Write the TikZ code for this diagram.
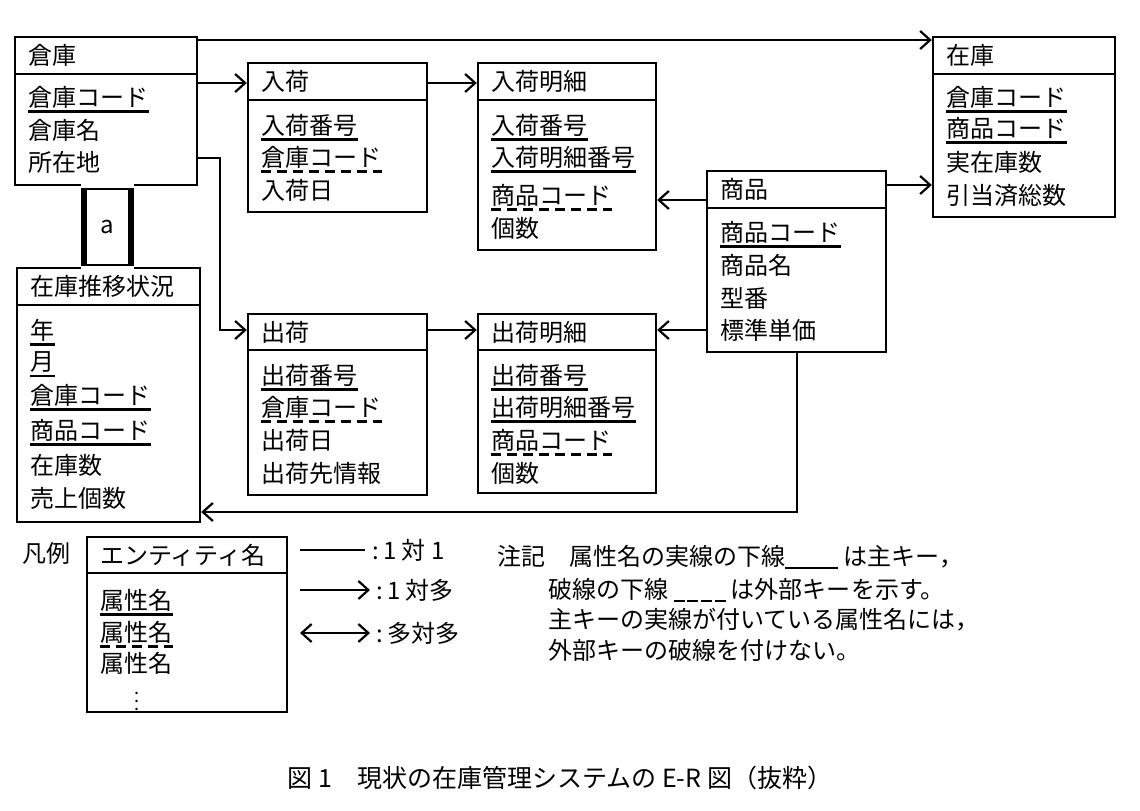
\documentclass[tikz,border=0pt]{standalone}
\usepackage{fontspec}
\setmainfont{Noto Sans CJK JP}
\usetikzlibrary{fit,arrows.meta}
\tikzset{
  box/.style={draw,line width=1.2pt,inner sep=0pt},
  attr/.style={anchor=west,inner xsep=0pt,inner ysep=1.5pt,font=\fontsize{12}{14}\selectfont},
  pk/.style={attr,append after command={(\tikzlastnode.south west) edge[draw,line width=1.2pt] (\tikzlastnode.south east)}},
  fk/.style={attr,append after command={(\tikzlastnode.south west) edge[draw,line width=1.2pt,dash pattern=on 5pt off 3pt] (\tikzlastnode.south east)}},
  rel/.style={line width=1.1pt},
  >={Straight Barb[length=5pt,width=9pt,line width=1.1pt]}
}
\newcommand\entity[7]{%
  \node[box, fit={(#2,#3)(#4,#5)}] (#1) {};
  \draw[line width=1.2pt] (#1.west |- 0,#6) -- (#1.east |- 0,#6);
  \node[attr] (#1-t) at (#2+13,{(#3+#6)/2}) {#7};}
\newcommand\solidbar{\rule[-2pt]{2.2em}{1pt}}
\newcommand\dashbar{\rule[-2pt]{0.45em}{1pt}\hspace{0.12em}\rule[-2pt]{0.45em}{1pt}\hspace{0.12em}\rule[-2pt]{0.45em}{1pt}\hspace{0.12em}\rule[-2pt]{0.45em}{1pt}}
\begin{document}
\begin{tikzpicture}[x=0.5pt,y=-0.5pt]
\useasboundingbox (0,0) rectangle (1140,810);

% entities
\entity{soko}{15}{37}{197}{185}{74}{倉庫}
\node[pk] (soko-1) at (28,97) {倉庫コード};
\node[attr] (soko-2) at (28,130) {倉庫名};
\node[attr] (soko-3) at (28,162) {所在地};

\entity{nyuka}{248}{63}{427}{212}{100}{入荷}
\node[pk] (nyuka-1) at (261,125) {入荷番号};
\node[fk] (nyuka-2) at (261,157) {倉庫コード};
\node[attr] (nyuka-3) at (261,190) {入荷日};

\entity{nmei}{478}{63}{656}{250}{100}{入荷明細}
\node[pk] (nmei-1) at (491,125) {入荷番号};
\node[pk] (nmei-2) at (491,157) {入荷明細番号};
\node[fk] (nmei-3) at (491,195) {商品コード};
\node[attr] (nmei-4) at (491,228) {個数};

\entity{zaiko}{933}{37}{1115}{217}{74}{在庫}
\node[pk] (zaiko-1) at (946,97) {倉庫コード};
\node[pk] (zaiko-2) at (946,128) {商品コード};
\node[attr] (zaiko-3) at (946,162) {実在庫数};
\node[attr] (zaiko-4) at (946,195) {引当済総数};

\entity{shohin}{707}{171}{886}{352}{208}{商品}
\node[pk] (shohin-1) at (720,232) {商品コード};
\node[attr] (shohin-2) at (720,265) {商品名};
\node[attr] (shohin-3) at (720,298) {型番};
\node[attr] (shohin-4) at (720,330) {標準単価};

\entity{suii}{17}{268}{200}{522}{305}{在庫推移状況}
\node[pk] (suii-1) at (30,330) {年};
\node[pk] (suii-2) at (30,362) {月};
\node[pk] (suii-3) at (30,395) {倉庫コード};
\node[pk] (suii-4) at (30,430) {商品コード};
\node[attr] (suii-5) at (30,465) {在庫数};
\node[attr] (suii-6) at (30,498) {売上個数};

\entity{shuka}{248}{314}{427}{495}{350}{出荷}
\node[pk] (shuka-1) at (261,375) {出荷番号};
\node[fk] (shuka-2) at (261,407) {倉庫コード};
\node[attr] (shuka-3) at (261,440) {出荷日};
\node[attr] (shuka-4) at (261,473) {出荷先情報};

\entity{smei}{478}{314}{656}{493}{350}{出荷明細}
\node[pk] (smei-1) at (491,375) {出荷番号};
\node[pk] (smei-2) at (491,407) {出荷明細番号};
\node[fk] (smei-3) at (491,440) {商品コード};
\node[attr] (smei-4) at (491,473) {個数};

% relationships
\draw[rel,->] (soko.east |- 0,40) -- (zaiko.west |- 0,40);
\draw[rel,->] (soko.east |- 0,83) -- (nyuka.west |- 0,83);
\draw[rel,->] (nyuka.east |- 0,83) -- (nmei.west |- 0,83);
\draw[rel,->] (soko.east |- 0,158) -| (220,330) -- (shuka.west |- 0,330);
\draw[rel,->] (shuka.east |- 0,330) -- (smei.west |- 0,330);
\draw[rel,->] (shohin.west |- 0,200) -- (nmei.east |- 0,200);
\draw[rel,->] (shohin.west |- 0,330) -- (smei.east |- 0,330);
\draw[rel,->] (shohin.east |- 0,185) -- (zaiko.west |- 0,185);
\draw[rel,->] (shohin.south -| 797,0) -- (797,512) -- (suii.east |- 0,512);

% blank relationship a
\node[draw,line width=3pt,minimum width=23.5pt,minimum height=40pt,inner sep=0pt] (rel-a) at (107,227) {};
\draw[white,line width=4pt] (rel-a.north west) -- (rel-a.north east) (rel-a.south west) -- (rel-a.south east);
\node[attr,anchor=center] (rel-a-t) at (rel-a) {a};

% legend
\node[attr] (hanrei) at (22,553) {凡例};
\entity{legend}{87}{537}{287}{712}{573}{エンティティ名}
\node[pk] (legend-1) at (100,600) {属性名};
\node[fk] (legend-2) at (100,632) {属性名};
\node[attr] (legend-3) at (100,663) {属性名};
\node[attr,font=\fontsize{9}{10}\selectfont,inner ysep=0pt] (legend-4) at (134,695) {$\vdots$};

\coordinate (l1a) at (300,550); \coordinate (l1b) at (365,550);
\coordinate (l2a) at (300,590); \coordinate (l2b) at (370,590);
\coordinate (l3a) at (300,633); \coordinate (l3b) at (370,633);
\draw[rel] (l1a) -- (l1b);
\draw[rel,->] (l2a) -- (l2b);
\draw[rel,<->] (l3a) -- (l3b);
\node[attr] (one-one) at (372,550) {:\,1 対 1};
\node[attr] (one-many) at (376,590) {:\,1 対多};
\node[attr] (many-many) at (376,633) {:\,多対多};

% note
\node[attr] (note-1) at (497,557) {注記　属性名の実線の下線\solidbar\ は主キー，};
\node[attr] (note-2) at (548,590) {破線の下線 \dashbar\ は外部キーを示す。};
\node[attr] (note-3) at (548,620) {主キーの実線が付いている属性名には，};
\node[attr] (note-4) at (548,650) {外部キーの破線を付けない。};

% caption
\node[attr,anchor=center,font=\fontsize{12.5}{14}\selectfont] (caption) at (560,778) {図 1　現状の在庫管理システムの E-R 図（抜粋）};
\end{tikzpicture}
\end{document}
